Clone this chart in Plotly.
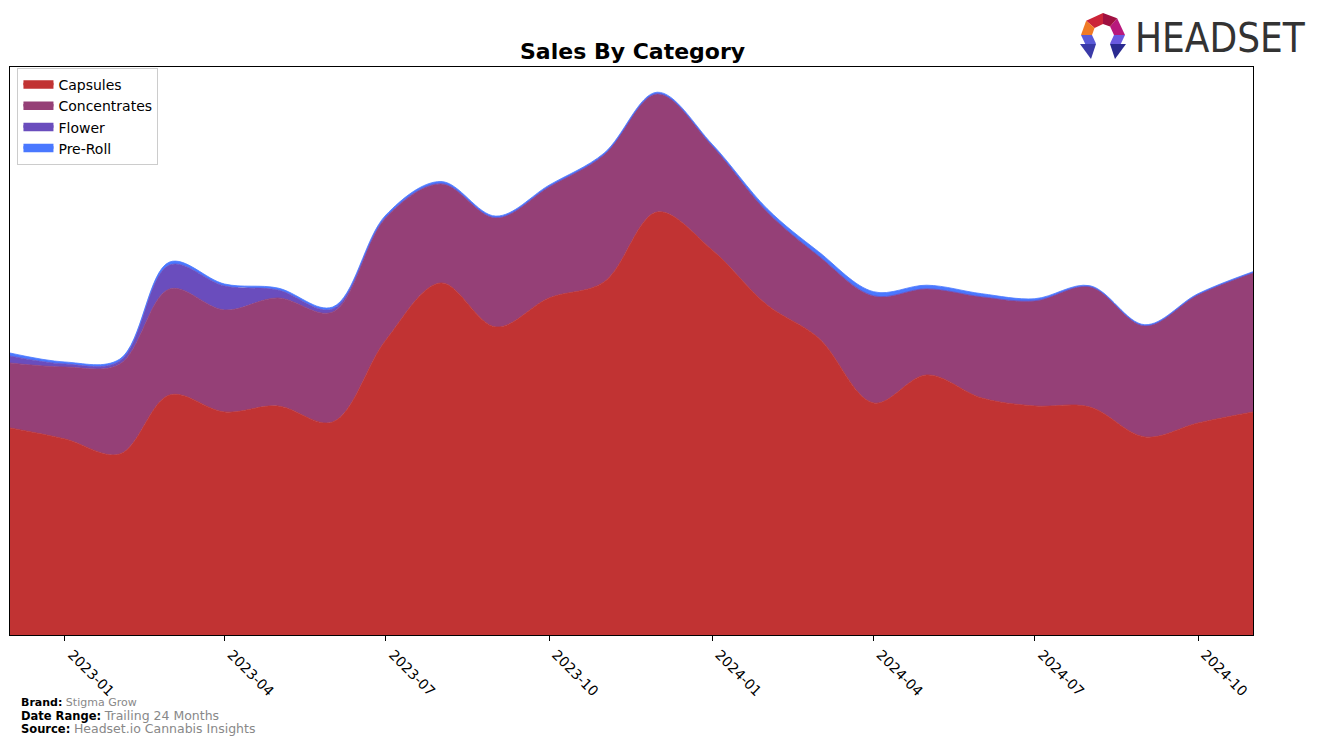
import math
import plotly.graph_objects as go

months = ["2022-12-01", "2023-01-01", "2023-02-01", "2023-03-01", "2023-04-01", "2023-05-01",
          "2023-06-01", "2023-07-01", "2023-08-01", "2023-09-01", "2023-10-01", "2023-11-01",
          "2023-12-01", "2024-01-01", "2024-02-01", "2024-03-01", "2024-04-01", "2024-05-01",
          "2024-06-01", "2024-07-01", "2024-08-01", "2024-09-01", "2024-10-01", "2024-11-01"]

capsules = [207, 196, 181, 240, 223, 229, 213, 295, 352, 308, 337, 353,
            423, 385, 330, 297, 232, 260, 237, 229, 228, 198, 212, 223]
concentrates = [65, 72, 90, 106, 102, 108, 110, 122, 99, 109, 111, 127,
                118, 104, 93, 82, 107, 86, 101, 105, 120, 111, 128, 139]
flower = [7, 3, 3, 24, 24, 8, 3, 1, 0.5, 0.4, 0.3, 0.3,
          0.3, 0.3, 0.3, 0.3, 0.3, 0.3, 0.3, 0.3, 0.3, 0.3, 0.3, 0.3]
preroll = [3, 2, 2, 3, 2, 2, 2, 2, 2, 1.5, 1.5, 1.5,
           1.5, 1.5, 3, 4, 4, 3.5, 3, 2, 1, 1, 1, 1]

tick_vals = ["2023-01-01", "2023-04-01", "2023-07-01", "2023-10-01",
             "2024-01-01", "2024-04-01", "2024-07-01", "2024-10-01"]
tick_text = ["2023-01", "2023-04", "2023-07", "2023-10",
             "2024-01", "2024-04", "2024-07", "2024-10"]

series = [
    ("Capsules", capsules, "rgb(193,51,51)"),
    ("Concentrates", concentrates, "rgb(149,64,119)"),
    ("Flower", flower, "rgb(106,77,189)"),
    ("Pre-Roll", preroll, "rgb(74,120,255)"),
]

fig = go.Figure()
for name, vals, col in series:
    fig.add_trace(go.Scatter(
        x=months, y=vals, name=name, mode="lines",
        stackgroup="one", line=dict(color=col, width=0.8, shape="spline", smoothing=1.0),
        fillcolor=col,
    ))

W, H = 1317, 744
L, R, T, B = 10, 1253, 67, 635


def px2paper(x, y):
    return (x - L) / (R - L), (B - y) / (B - T)


def poly(points, color):
    parts = []
    for i, (x, y) in enumerate(points):
        px, py = px2paper(x, y)
        parts.append(("M" if i == 0 else "L") + f"{px:.5f},{py:.5f}")
    return dict(type="path", xref="paper", yref="paper", path=" ".join(parts) + " Z",
                fillcolor=color, line=dict(width=0), layer="above")


shapes = []
# Headset logo icon (ring segments, open at bottom)
cx, cy, ro, ri = 1103, 35, 22, 11
seg_cols = ["#6a5ae0", "#b8187c", "#a01040", "#cc2438", "#f07a25", "#5a5ad8"]
angles = [-50, 0, 50, 90, 140, 180, 230]
for i in range(6):
    a0, a1 = math.radians(angles[i]), math.radians(angles[i + 1])
    pts = [(cx + ro * math.cos(a0), cy - ro * math.sin(a0)),
           (cx + ro * math.cos(a1), cy - ro * math.sin(a1)),
           (cx + ri * math.cos(a1), cy - ri * math.sin(a1)),
           (cx + ri * math.cos(a0), cy - ri * math.sin(a0))]
    shapes.append(poly(pts, seg_cols[i]))
# feet
shapes.append(poly([(1080, 44), (1096, 44), (1091, 59)], "#3a3aa8"))
shapes.append(poly([(1110, 44), (1126, 44), (1115, 59)], "#2a2a90"))

annotations = [
    dict(text="<b>Sales By Category</b>", x=632, y=51, xanchor="center",
         font=dict(family="DejaVu Sans", size=22, color="black")),
    dict(text="HEADSET", x=1133, y=38, xanchor="left",
         font=dict(family="Liberation Sans Narrow, DejaVu Sans Condensed, DejaVu Sans", size=40, color="#333333")),
    dict(text="<b>Brand:</b> <span style='color:#888888'>Stigma Grow</span>", x=19, y=702,
         xanchor="left", font=dict(family="DejaVu Sans", size=11, color="black")),
    dict(text="<b>Date Range:</b> <span style='color:#888888;font-size:12.5px'>Trailing 24 Months</span>", x=19, y=715,
         xanchor="left", font=dict(family="DejaVu Sans", size=11.5, color="black")),
    dict(text="<b>Source:</b> <span style='color:#888888;font-size:12.5px'>Headset.io Cannabis Insights</span>", x=19, y=728,
         xanchor="left", font=dict(family="DejaVu Sans", size=11.5, color="black")),
]
for a in annotations:
    a["xref"], a["yref"] = "paper", "paper"
    a["x"], a["y"] = px2paper(a["x"], a["y"])
    a["yanchor"] = "middle"
    a["showarrow"] = False

fig.update_layout(
    width=W, height=H,
    margin=dict(l=L, r=W - R, t=T, b=H - B),
    paper_bgcolor="white", plot_bgcolor="white",
    showlegend=True,
    legend=dict(x=0.006, y=0.998, xanchor="left", yanchor="top",
                bgcolor="rgba(255,255,255,0.8)", bordercolor="#cccccc", borderwidth=1,
                font=dict(family="DejaVu Sans", size=14, color="black"),
                tracegroupgap=0, itemsizing="constant", traceorder="normal"),
    xaxis=dict(type="date", range=[months[0], months[-1]], tickvals=tick_vals, ticktext=tick_text,
               tickangle=45, ticks="outside", ticklen=5, tickcolor="black", ticklabelshift=7,
               showgrid=False, zeroline=False, showline=True, linecolor="black", linewidth=1, mirror=True,
               tickfont=dict(family="DejaVu Sans", size=14, color="black")),
    yaxis=dict(range=[0, 568], showticklabels=False, ticks="", showgrid=False, zeroline=False,
               showline=True, linecolor="black", linewidth=1, mirror=True),
    shapes=shapes,
    annotations=annotations,
)

fig.write_html("out.html")
